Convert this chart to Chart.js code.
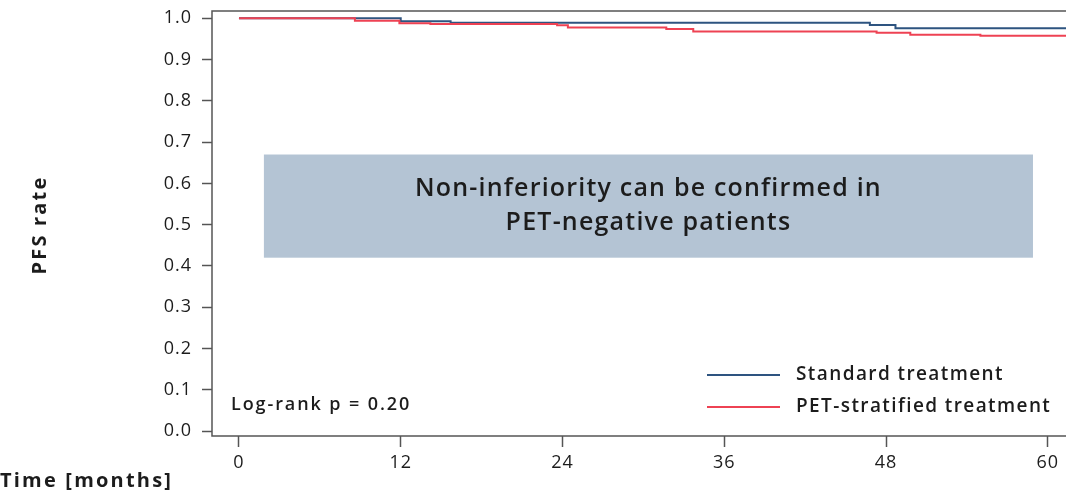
<!DOCTYPE html>
<html>
<head>
<meta charset="utf-8">
<script src="https://cdn.jsdelivr.net/npm/chart.js@4.4.1/dist/chart.umd.min.js"></script>
<style>
    html, body { margin: 0; padding: 0; background: #ffffff; overflow: hidden; }
    .wrap { position: relative; width: 1066px; height: 493px; }
</style>
</head>
<body>
<div class="wrap"><canvas id="kmChart"></canvas></div>
<script>
// Kaplan-Meier curves (months, PFS rate)
const stdTimes = [0, 12, 15.7, 46.8, 48.7, 61.4];
const stdPfs   = [1.0, 0.993, 0.989, 0.984, 0.976, 0.976];
const petTimes = [0, 8.6, 11.9, 14.2, 23.6, 24.4, 31.7, 33.7, 47.3, 49.8, 55.0, 61.4];
const petPfs   = [1.0, 0.994, 0.988, 0.986, 0.983, 0.978, 0.974, 0.968, 0.965, 0.960, 0.958, 0.958];

const seriesNames = ["Standard treatment", "PET-stratified treatment"];
const xTicks = [0, 12, 24, 36, 48, 60];
const yTicks = [0, 0.1, 0.2, 0.3, 0.4, 0.5, 0.6, 0.7, 0.8, 0.9, 1.0];
const boxRange = { x: [1.85, 58.9], y: [0.42, 0.67] };
const boxText = ["Non-inferiority can be confirmed in", "PET-negative patients"];
const pText = "Log-rank p = 0.20";

const blue = "#2e5480";
const red = "#ee4253";
const axisGrey = "#555555";
const textCol = "#1c1c1c";
const fam = "'Open Sans', 'DejaVu Sans', sans-serif";

const ctx = document.getElementById('kmChart');

const extras = {
    id: 'extras',
    beforeDraw(chart) {
        // wider lettering for the tick labels
        chart.ctx.letterSpacing = "1px";
    },
    beforeDatasetsDraw(chart) {
        const c = chart.ctx, x = chart.scales.x, y = chart.scales.y;
        // shaded annotation box
        const x0 = x.getPixelForValue(boxRange.x[0]), x1 = x.getPixelForValue(boxRange.x[1]);
        const y0 = y.getPixelForValue(boxRange.y[1]), y1 = y.getPixelForValue(boxRange.y[0]);
        c.save();
        c.fillStyle = "#b4c4d4";
        c.fillRect(x0, y0, x1 - x0, y1 - y0);
        c.fillStyle = textCol;
        c.font = "600 25px " + fam;
        c.letterSpacing = "1.2px";
        c.textAlign = "center";
        c.textBaseline = "middle";
        const cx = (x0 + x1) / 2, cy = (y0 + y1) / 2;
        c.fillText(boxText[0], cx, cy - 17);
        c.fillText(boxText[1], cx, cy + 17);
        c.restore();
    },
    afterDraw(chart) {
        const c = chart.ctx, a = chart.chartArea;
        c.save();
        // frame (top, left, bottom)
        c.strokeStyle = axisGrey;
        c.lineWidth = 1.5;
        c.beginPath();
        c.moveTo(a.right + 2, a.top);
        c.lineTo(a.left, a.top);
        c.lineTo(a.left, a.bottom);
        c.lineTo(a.right + 2, a.bottom);
        c.stroke();

        // p-value
        c.fillStyle = textCol;
        c.font = "600 18px " + fam;
        c.letterSpacing = "1.9px";
        c.textBaseline = "middle";
        c.textAlign = "left";
        c.fillText(pText, 231, 405);

        // legend
        const legend = [[seriesNames[0], blue, 375], [seriesNames[1], red, 407]];
        c.letterSpacing = "1.4px";
        legend.forEach(([name, col, ly]) => {
            c.strokeStyle = col;
            c.lineWidth = 2;
            c.beginPath();
            c.moveTo(707, ly);
            c.lineTo(780, ly);
            c.stroke();
            c.fillStyle = textCol;
            c.font = "600 19px " + fam;
            c.fillText(name, 796, ly);
        });

        // axis titles
        c.font = "bold 20px " + fam;
        c.letterSpacing = "2.2px";
        c.fillText("Time [months]", 0, 481);
        c.translate(40, 225);
        c.rotate(-Math.PI / 2);
        c.textAlign = "center";
        c.fillText("PFS rate", 0, 0);
        c.restore();
    }
};

new Chart(ctx, {
    type: 'line',
    data: {
        datasets: [{
            label: seriesNames[1],
            data: petTimes.map((t, i) => ({x: t, y: petPfs[i]})),
            borderColor: red,
            borderWidth: 2,
            stepped: 'before',
            pointRadius: 0,
            order: 0,
        }, {
            label: seriesNames[0],
            data: stdTimes.map((t, i) => ({x: t, y: stdPfs[i]})),
            borderColor: blue,
            borderWidth: 2,
            stepped: 'before',
            pointRadius: 0,
            order: 1,
        }]
    },
    options: {
        responsive: true,
        maintainAspectRatio: false,
        animation: false,
        layout: { padding: { top: 11, left: 0, right: 0, bottom: 0 } },
        plugins: {
            legend: { display: false },
            tooltip: { enabled: false },
        },
        scales: {
            x: {
                type: 'linear',
                min: -2,
                max: 61.35,
                afterBuildTicks: (s) => { s.ticks = xTicks.map(v => ({value: v})); },
                afterFit: (s) => { s.height = 57; s.paddingLeft = 0; s.paddingRight = 0; },
                border: { display: false },
                grid: {
                    drawOnChartArea: false,
                    drawTicks: true,
                    tickLength: 11,
                    tickColor: axisGrey,
                    tickWidth: 1.5,
                },
                ticks: {
                    color: textCol,
                    font: { family: fam, size: 18 },
                    padding: 5,
                    maxRotation: 0,
                },
            },
            y: {
                min: -0.012,
                max: 1.0177,
                afterBuildTicks: (s) => { s.ticks = yTicks.map(v => ({value: v})); },
                afterFit: (s) => { s.width = 212; s.paddingTop = 0; s.paddingBottom = 0; },
                border: { display: false },
                grid: {
                    drawOnChartArea: false,
                    drawTicks: true,
                    tickLength: 10,
                    tickColor: axisGrey,
                    tickWidth: 1.5,
                },
                ticks: {
                    color: textCol,
                    font: { family: fam, size: 18 },
                    padding: 10,
                    callback: (v) => v.toFixed(1),
                },
            }
        }
    },
    plugins: [extras]
});
</script>
</body>
</html>
